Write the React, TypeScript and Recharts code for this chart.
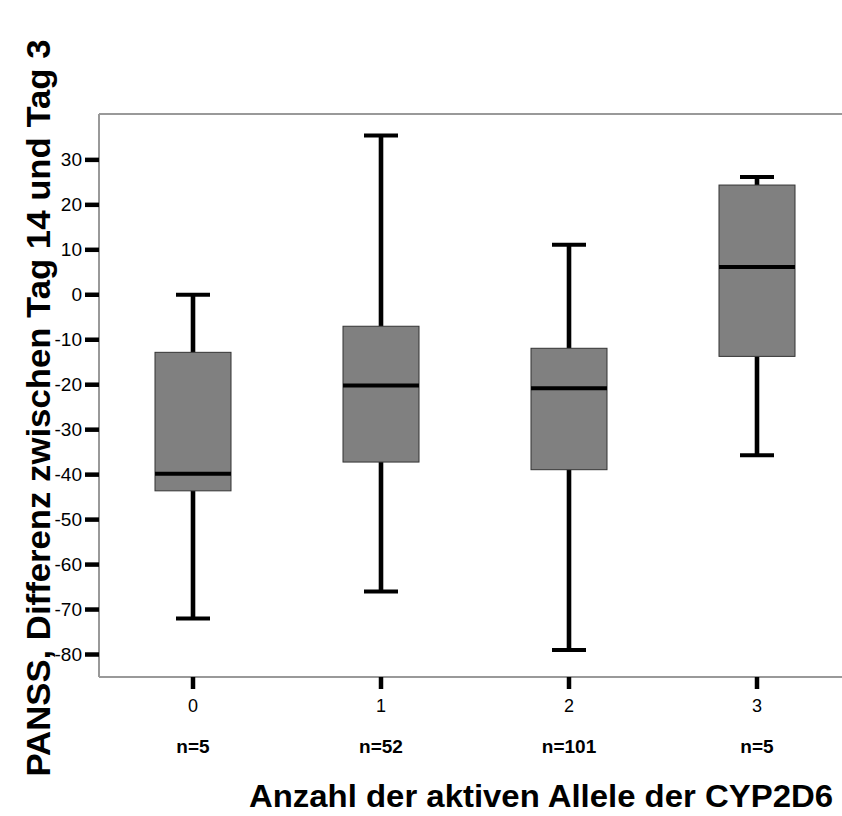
import React from "react";
import { ComposedChart, Bar, XAxis, YAxis, ReferenceLine } from "recharts";

// Anzahl aktiver Allele (Kategorien) und Stichprobengrößen
const categories = ["0", "1", "2", "3"];
const sampleSizes = ["n=5", "n=52", "n=101", "n=5"];

// Boxplot-Kennwerte je Kategorie
const whiskerLow = [-72, -66, -79, -35.7];
const quartile1 = [-43.6, -37.2, -38.9, -13.7];
const medians = [-39.8, -20.2, -20.8, 6.2];
const quartile3 = [-12.8, -7, -11.9, 24.4];
const whiskerHigh = [0, 35.4, 11.1, 26.2];

const yTicks = [-80, -70, -60, -50, -40, -30, -20, -10, 0, 10, 20, 30];
const yMin = -85;
const yMax = 40.2;

const data = categories.map((cat, i) => ({
  cat,
  range: [whiskerLow[i], whiskerHigh[i]],
  q1: quartile1[i],
  median: medians[i],
  q3: quartile3[i],
}));

const FONT = "'Liberation Sans', Arial, Helvetica, sans-serif";

const BoxShape = (props: any) => {
  const { x, y, width, height, payload } = props;
  const [lo, hi] = payload.range;
  const top = Math.min(y, y + height);
  const bottom = Math.max(y, y + height);
  const py = (v: number) => top + ((hi - v) / (hi - lo)) * (bottom - top);
  const cx = x + width / 2;
  const capHalf = 17;
  const yQ3 = py(payload.q3);
  const yQ1 = py(payload.q1);
  return (
    <g>
      <line x1={cx} x2={cx} y1={top} y2={yQ3} stroke="#000" strokeWidth={4.6} />
      <line x1={cx} x2={cx} y1={yQ1} y2={bottom} stroke="#000" strokeWidth={4.6} />
      <line x1={cx - capHalf} x2={cx + capHalf} y1={top} y2={top} stroke="#000" strokeWidth={4} />
      <line x1={cx - capHalf} x2={cx + capHalf} y1={bottom} y2={bottom} stroke="#000" strokeWidth={4} />
      <rect x={x} y={yQ3} width={width} height={yQ1 - yQ3} fill="#808080" stroke="#333" strokeWidth={1} />
      <line x1={x} x2={x + width} y1={py(payload.median)} y2={py(payload.median)} stroke="#000" strokeWidth={4} />
    </g>
  );
};

const CategoryTick = (props: any) => {
  const { x, y, payload, index } = props;
  return (
    <g>
      <text x={x} y={y + 15} textAnchor="middle" dominantBaseline="central" fontSize={18} fontFamily={FONT} fill="#000">
        {payload.value}
      </text>
      <text x={x} y={y + 55} textAnchor="middle" dominantBaseline="central" fontSize={19} fontWeight="bold" fontFamily={FONT} fill="#000">
        {sampleSizes[index]}
      </text>
    </g>
  );
};

const ValueTick = (props: any) => {
  const { x, y, payload } = props;
  return (
    <text x={x} y={y} textAnchor="end" dominantBaseline="central" fontSize={19} fontFamily={FONT} fill="#000">
      {payload.value}
    </text>
  );
};

const xTitle = () => (
  <text x={541} y={807} textAnchor="middle" fontSize={32} fontWeight="bold" fontFamily={FONT} fill="#000" textLength={584} lengthAdjust="spacingAndGlyphs">
    Anzahl der aktiven Allele der CYP2D6
  </text>
);

const yTitle = () => (
  <text x={50} y={408} transform="rotate(-90, 50, 408)" textAnchor="middle" fontSize={34} fontWeight="bold" fontFamily={FONT} fill="#000" textLength={737} lengthAdjust="spacingAndGlyphs">
    PANSS, Differenz zwischen Tag 14 und Tag 3
  </text>
);

export default function App() {
  return (
    <div style={{ position: "absolute", left: 0, top: 0, width: 842, height: 816, overflow: "hidden", background: "#fff" }}>
      <ComposedChart width={851} height={816} data={data} margin={{ top: 114, right: 0, left: 0, bottom: 0 }}>
        <XAxis
          dataKey="cat"
          height={139}
          tickSize={12}
          tickLine={{ stroke: "#000", strokeWidth: 4.5 }}
          axisLine={{ stroke: "#999", strokeWidth: 2 }}
          tick={<CategoryTick />}
          interval={0}
          label={xTitle}
        />
        <YAxis
          type="number"
          domain={[yMin, yMax]}
          ticks={yTicks}
          allowDataOverflow
          width={99}
          tickSize={14}
          tickMargin={3}
          tickLine={{ stroke: "#000", strokeWidth: 4.5 }}
          axisLine={{ stroke: "#999", strokeWidth: 2 }}
          tick={<ValueTick />}
          label={yTitle}
        />
        <ReferenceLine y={yMax} stroke="#999" strokeWidth={2} />
        <Bar dataKey="range" barSize={76} shape={<BoxShape />} isAnimationActive={false} />
      </ComposedChart>
    </div>
  );
}
